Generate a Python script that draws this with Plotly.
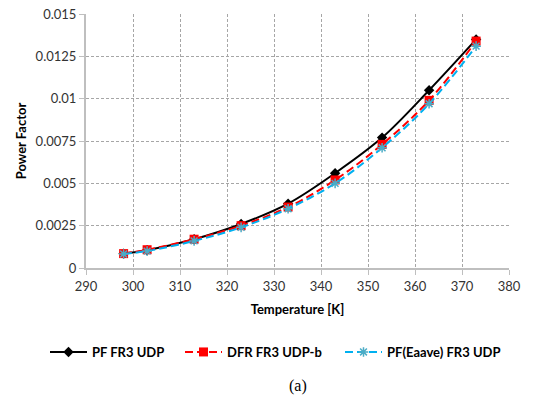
import plotly.graph_objects as go

temps = [298, 303, 313, 323, 333, 343, 353, 363, 373]
pf_fr3 = [0.00085, 0.00105, 0.0017, 0.0026, 0.0038, 0.0056, 0.0077, 0.0105, 0.0135]
dfr_fr3 = [0.00085, 0.00108, 0.0017, 0.0025, 0.0036, 0.0052, 0.0073, 0.0099, 0.0134]
pf_eaave = [0.00083, 0.00100, 0.0016, 0.0024, 0.0035, 0.0050, 0.0071, 0.0097, 0.0131]

x_ticks = [290, 300, 310, 320, 330, 340, 350, 360, 370, 380]
y_ticks = [0, 0.0025, 0.005, 0.0075, 0.01, 0.0125, 0.015]
y_tick_text = ["0", "0.0025", "0.005", "0.0075", "0.01", "0.0125", "0.015"]

FONT = "Lato, 'Open Sans', sans-serif"
LEG_FONT = dict(family=FONT, size=13, color="black", weight="bold")

W, H = 542, 398

fig = go.Figure()
fig.add_trace(go.Scatter(
    x=temps, y=pf_fr3, name="PF FR3 UDP", mode="lines+markers", legend="legend",
    line=dict(color="black", width=2, shape="spline"),
    marker=dict(symbol="diamond", size=8, color="black")))
fig.add_trace(go.Scatter(
    x=temps, y=dfr_fr3, name="DFR FR3 UDP-b", mode="lines+markers", legend="legend2",
    line=dict(color="#FF0000", width=2, dash="8px,4px", shape="spline"),
    marker=dict(symbol="square", size=9, color="#FF0000")))
fig.add_trace(go.Scatter(
    x=temps, y=pf_eaave, name="PF(Eaave) FR3 UDP", mode="lines+markers", legend="legend3",
    line=dict(color="#00B0F0", width=2, dash="8px,4px", shape="spline"),
    marker=dict(symbol="asterisk-open", size=8, color="#4BACC6",
                line=dict(color="#4BACC6", width=1.5))))

def leg(xpx):
    return dict(orientation="h", xref="container", x=xpx / W, xanchor="left",
                yref="container", y=(H - 352) / H, yanchor="middle",
                font=LEG_FONT, itemwidth=37, bgcolor="rgba(0,0,0,0)")

fig.update_layout(
    width=W, height=H,
    margin=dict(l=86, r=33, t=14, b=130, autoexpand=False),
    paper_bgcolor="white", plot_bgcolor="white",
    font=dict(family=FONT, size=13, color="#333333"),
    showlegend=True,
    legend=leg(45), legend2=leg(180), legend3=leg(340),
    annotations=[dict(text="(a)", x=0.5, xref="paper", y=(268 - 386) / 254, yref="paper",
                      xanchor="center", yanchor="middle", showarrow=False,
                      font=dict(family="Liberation Serif, 'Times New Roman', serif", size=16, color="black"))],
)
fig.update_xaxes(
    range=[290, 380], tickvals=x_ticks, ticktext=[str(t) for t in x_ticks],
    showgrid=True, gridcolor="#A6A6A6", griddash="3px,2px", gridwidth=1,
    showline=True, linecolor="#BFBFBF", linewidth=2,
    ticks="outside", ticklen=5, tickcolor="#BFBFBF",
    zeroline=False, automargin=False, ticklabeloverflow="allow",
    title=dict(text="<b>Temperature [K]</b>", font=dict(family=FONT, size=13, color="black"), standoff=12))
fig.update_yaxes(
    range=[0, 0.015], tickvals=y_ticks, ticktext=y_tick_text,
    showgrid=True, gridcolor="#A6A6A6", griddash="3px,2px", gridwidth=1,
    showline=True, linecolor="#BFBFBF", linewidth=2,
    ticks="outside", ticklen=5, tickcolor="#BFBFBF",
    zeroline=False, automargin=False, ticklabeloverflow="allow",
    title=dict(text="<b>Power Factor</b>", font=dict(family=FONT, size=13, color="black"), standoff=6))

fig.write_html("out.html", config={"displayModeBar": False},
               post_script="document.body.style.margin='0px';")
